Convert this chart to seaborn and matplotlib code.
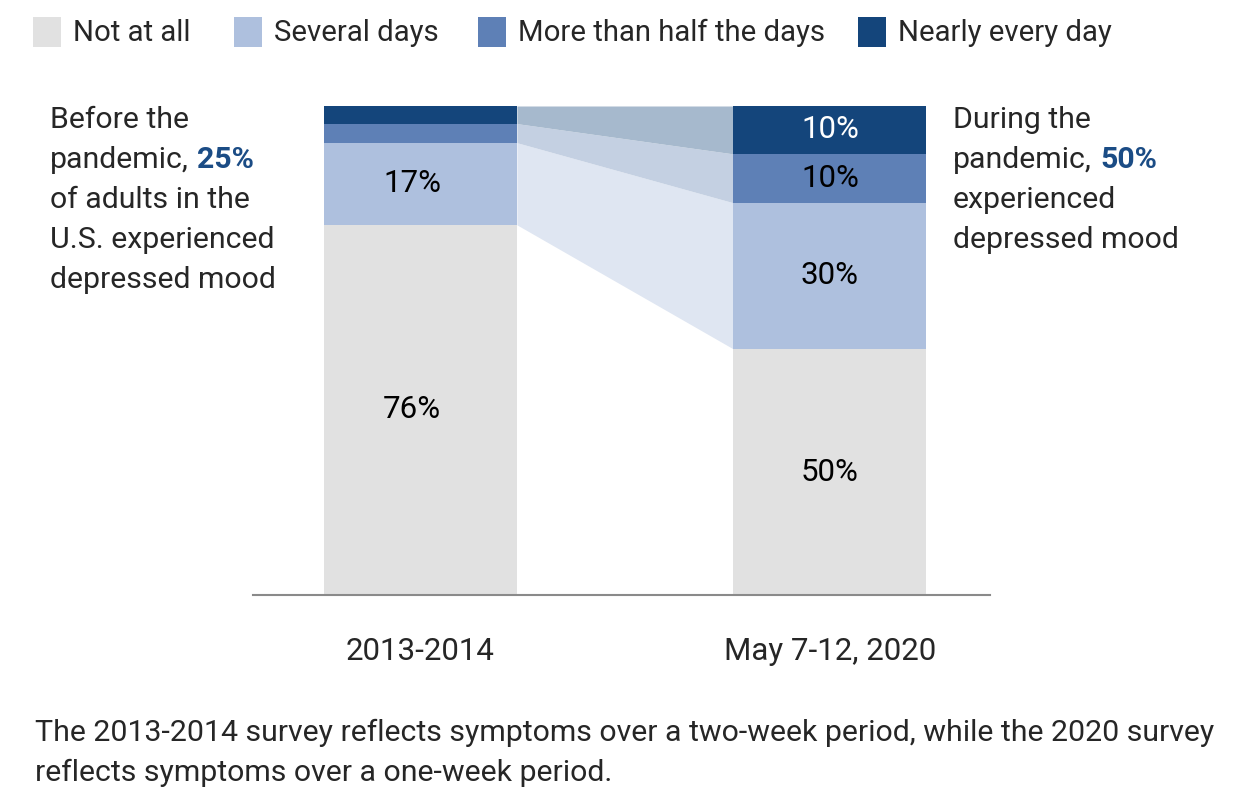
import numpy as np
import pandas as pd
import matplotlib
matplotlib.use("Agg")
import matplotlib.pyplot as plt
import seaborn as sns

# Data
periods = ["2013-2014", "May 7-12, 2020"]
categories = ["Not at all", "Several days", "More than half the days", "Nearly every day"]
not_at_all = [75.7, 50.3]
several_days = [16.8, 29.9]
more_than_half = [3.9, 10.0]
nearly_every_day = [3.6, 9.8]

bar_colors = ["#e1e1e1", "#aec0de", "#5e80b6", "#14457b"]
band_colors = [None, "#dfe6f2", "#c4d0e2", "#a6b9cd"]
highlight = "#1b4c85"

sns.set_theme(style="white")
plt.rcParams["font.family"] = ["Roboto", "DejaVu Sans"]

values = np.array([not_at_all, several_days, more_than_half, nearly_every_day])
cum = np.cumsum(values, axis=0)

df = pd.DataFrame({"period": periods})
for i, c in enumerate(categories):
    df[c] = cum[i]

fig = plt.figure(figsize=(12.48, 7.92), dpi=100)
ax = fig.add_axes([253 / 1248, 1 - 595 / 792, 737 / 1248, 489 / 792])

width = 0.471
# stacked bars: draw cumulative totals from top layer down
for i in range(len(categories) - 1, -1, -1):
    sns.barplot(data=df, x="period", y=categories[i], color=bar_colors[i],
                width=width, saturation=1, ax=ax, zorder=2)
for p in ax.patches:
    p.set_edgecolor("none")
    p.set_clip_on(False)

# connecting bands between the bars
xs = [width / 2, 1 - width / 2]
for i in range(1, len(categories)):
    ax.fill_between(xs, cum[i - 1], cum[i], color=band_colors[i], lw=0, zorder=1)

# segment labels
for j in range(2):
    for i in range(len(categories)):
        v = values[i, j]
        if v >= 9.5 and not (j == 0 and i > 1):
            ax.text(j - (0.02 if j == 0 else 0), cum[i, j] - v / 2, f"{round(v)}%",
                    ha="center", va="center", fontsize=22.5,
                    color="white" if i == 3 else "black", zorder=3)

ax.set_xlim(-0.409, 1.391)
ax.set_ylim(0, 100)
ax.set_xlabel("")
ax.set_ylabel("")
ax.set_yticks([])
ax.tick_params(axis="x", length=0, pad=30, labelsize=22.5)
for s in ["top", "left", "right"]:
    ax.spines[s].set_visible(False)
ax.spines["bottom"].set_color("#8a8a8a")
ax.spines["bottom"].set_linewidth(1.5)

# legend
leg_x = [33, 234, 478, 858]
for i, c in enumerate(categories):
    fig.patches.append(plt.Rectangle((leg_x[i] / 1248, 1 - 47 / 792), 28 / 1248, 30 / 792,
                                     transform=fig.transFigure, color=bar_colors[i], lw=0))
    fig.text((leg_x[i] + 40) / 1248, 1 - 33 / 792, c, fontsize=21.2, va="center", ha="left")

# side notes with bold inline value
def note(x, lines, bold_line, bold_val):
    for k, line in enumerate(lines):
        y = 1 - (120 + 40 * k) / 792
        t = fig.text(x / 1248, y, line, fontsize=21.8, va="center", ha="left")
        if k == bold_line:
            fig.canvas.draw()
            bb = t.get_window_extent()
            fig.text((bb.x1 + 8) / 1248, y, bold_val, fontsize=21.8, va="center", ha="left",
                     fontweight="bold", color=highlight)

note(50, ["Before the", "pandemic,", "of adults in the", "U.S. experienced", "depressed mood"], 1, "25%")
note(953, ["During the", "pandemic,", "experienced", "depressed mood"], 1, "50%")

fig.text(35 / 1248, 1 - 733 / 792,
         "The 2013-2014 survey reflects symptoms over a two-week period, while the 2020 survey",
         fontsize=21.75, va="center", ha="left")
fig.text(35 / 1248, 1 - 773 / 792, "reflects symptoms over a one-week period.",
         fontsize=21.75, va="center", ha="left")

fig.savefig("out.png", dpi=100)
